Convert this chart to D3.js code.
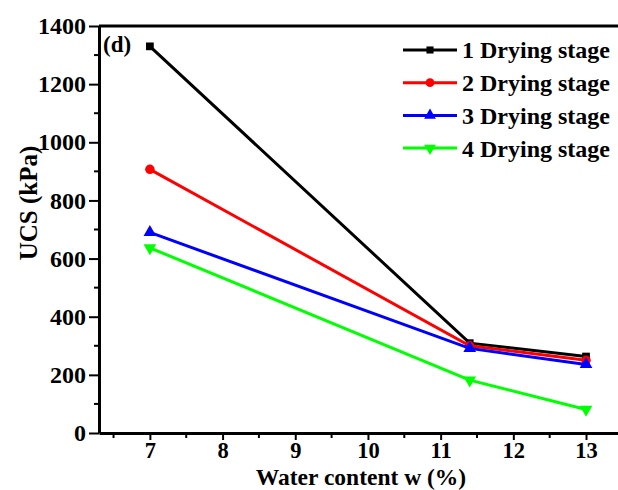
<!DOCTYPE html>
<html lang="en">
<head>
<meta charset="UTF-8">
<title>UCS vs water content</title>
<script src="https://cdn.jsdelivr.net/npm/d3@7/dist/d3.min.js"></script>
</head>
<body style="margin:0; background:#fff">
<script>
  var width = 618, height = 490;
  var margin = {left: 99, top: 26, right: 0, bottom: 57};
  var FONT = '"Liberation Serif"';

  // data
  var waterContent = [7, 11.4, 13];
  var seriesNames = ["1 Drying stage", "2 Drying stage", "3 Drying stage", "4 Drying stage"];
  var stage1 = [1330, 309, 263];
  var stage2 = [907, 300, 250];
  var stage3 = [690, 291, 236];
  var stage4 = [637, 182, 81];
  var colors = ["#000000", "#ff0000", "#0000ff", "#00ff00"];
  var symbols = [d3.symbolSquare, d3.symbolCircle, d3.symbolTriangle, d3.symbolTriangle];
  var xTicks = [7, 8, 9, 10, 11, 12, 13];
  var yTicks = [0, 200, 400, 600, 800, 1000, 1200, 1400];

  var allSeries = [stage1, stage2, stage3, stage4];

  var svg = d3.select('body').append('svg')
      .attr('width', width).attr('height', height);

  function bold(sel, size) {
    return sel.style('font-family', FONT).style('font-weight', 'bold')
              .style('font-size', size + 'px').style('fill', '#000');
  }

  var x = d3.scaleLinear().domain([6.3, 13.44]).range([margin.left, width - margin.right]);
  var y = d3.scaleLinear().domain([0, 1400]).range([height - margin.bottom, margin.top]);

  // minor ticks
  var xMinor = d3.range(6.5, 13.5, 1);
  var yMinor = d3.range(100, 1400, 200);

  svg.append('g').selectAll('line').data(xMinor).enter().append('line')
      .attr('x1', d => x(d)).attr('x2', d => x(d))
      .attr('y1', y(0)).attr('y2', y(0) + 5)
      .attr('stroke', '#000').attr('stroke-width', 2);
  svg.append('g').selectAll('line').data(yMinor).enter().append('line')
      .attr('x1', x(6.3)).attr('x2', x(6.3) - 5)
      .attr('y1', d => y(d)).attr('y2', d => y(d))
      .attr('stroke', '#000').attr('stroke-width', 2);

  var xAxis = svg.append('g')
      .attr('transform', 'translate(0,' + y(0) + ')')
      .call(d3.axisBottom(x).tickValues(xTicks).tickFormat(d3.format('d'))
        .tickSize(7).tickPadding(2).tickSizeOuter(0));
  var yAxis = svg.append('g')
      .attr('transform', 'translate(' + x(6.3) + ',0)')
      .call(d3.axisLeft(y).tickValues(yTicks).tickFormat(d3.format('d'))
        .tickSize(10).tickPadding(3).tickSizeOuter(0));

  [xAxis, yAxis].forEach(function(a) {
    a.select('.domain').attr('stroke-width', 3);
    a.selectAll('.tick line').attr('stroke-width', 2);
  });
  bold(xAxis.selectAll('.tick text'), 22.5);
  bold(yAxis.selectAll('.tick text'), 24);

  // top frame line
  svg.append('line')
      .attr('x1', x(6.3)).attr('x2', width)
      .attr('y1', y(1400)).attr('y2', y(1400))
      .attr('stroke', '#000').attr('stroke-width', 3);

  var line = d3.line().x((d, i) => x(waterContent[i])).y(d => y(d));

  allSeries.forEach(function(vals, k) {
    svg.append('path').datum(vals)
        .attr('d', line)
        .attr('fill', 'none')
        .attr('stroke', colors[k])
        .attr('stroke-width', 3);
    svg.append('g').selectAll('path').data(vals).enter().append('path')
        .attr('d', d3.symbol().type(symbols[k]).size(k === 0 ? 60 : 70))
        .attr('transform', (d, i) => 'translate(' + x(waterContent[i]) + ',' + y(d) + ')' + (k === 3 ? ' rotate(180)' : ''))
        .attr('fill', colors[k]);
  });

  // panel label
  bold(svg.append('text').attr('x', 103).attr('y', 52), 23).text('(d)');

  // legend
  var legend = svg.append('g');
  seriesNames.forEach(function(name, k) {
    var ly = 50 + k * 32.7;
    legend.append('line').attr('x1', 403).attr('x2', 457).attr('y1', ly).attr('y2', ly)
        .attr('stroke', colors[k]).attr('stroke-width', 3);
    legend.append('path')
        .attr('d', d3.symbol().type(symbols[k]).size(k === 0 ? 50 : 60))
        .attr('transform', 'translate(430,' + ly + ')' + (k === 3 ? ' rotate(180)' : ''))
        .attr('fill', colors[k]);
    bold(legend.append('text').attr('x', 462).attr('y', ly).attr('dy', '0.35em'), 24).text(name);
  });

  // axis titles
  bold(svg.append('text')
      .attr('x', 361).attr('y', 485)
      .attr('text-anchor', 'middle'), 23.5)
      .text('Water content w (%)');
  bold(svg.append('text')
      .attr('transform', 'translate(37,203) rotate(-90)')
      .attr('text-anchor', 'middle'), 25)
      .text('UCS (kPa)');
</script>
</body>
</html>
